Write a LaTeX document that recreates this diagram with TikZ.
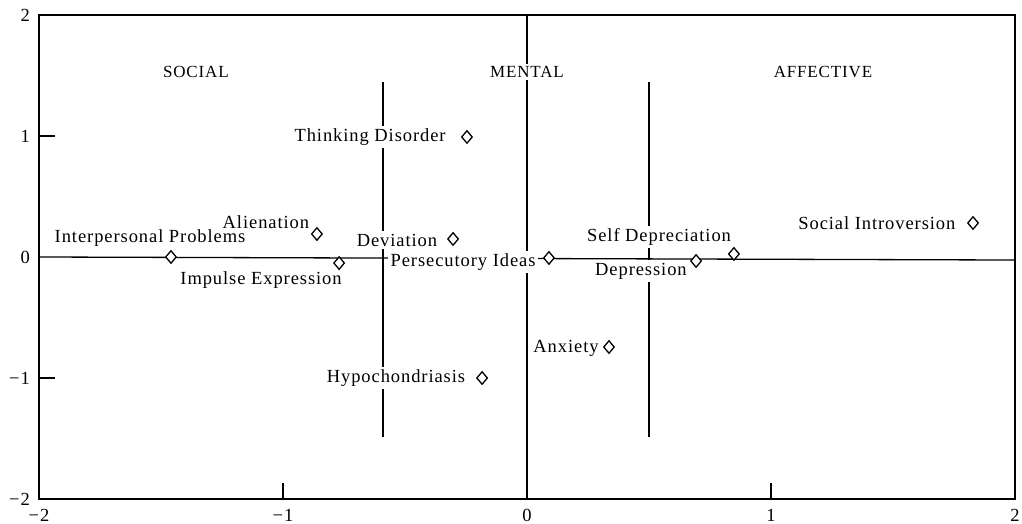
\documentclass[tikz,border=0pt]{standalone}
\usepackage{fontspec}
\setmainfont{Liberation Serif}[LetterSpace=5]
\usetikzlibrary{shapes.geometric}
\begin{document}
\begin{tikzpicture}[x=244pt,y=121pt,
  lbl/.style={fill=white,inner sep=2.5pt,font=\fontsize{18.5}{20}\selectfont},
  hdr/.style={fill=white,inner sep=2pt,font=\fontsize{17}{20}\selectfont},
  tk/.style={font=\fontsize{18.5}{20}\selectfont,inner sep=0pt},
  pt/.style={diamond,draw,fill=white,line width=1.3pt,minimum width=11pt,minimum height=13pt,inner sep=0pt},
  frame/.style={line width=1.3pt},
  divider/.style={line width=2.8pt},
  axisline/.style={line width=1.2pt}]
\useasboundingbox (-527pt,-267pt) rectangle (495pt,257pt);
% frame
\draw[frame] (-2,-2) rectangle (2,2);
\foreach \v in {-1,1}{
  \draw[frame] (\v,-2) -- ++(0,16pt);
  \draw[frame] (-2,\v) -- ++(16pt,0);
}
% tick labels
\node[tk] (xm2) at (-2,-2.132) {−2};
\node[tk] (xm1) at (-1,-2.132) {−1};
\node[tk] (x0) at (0,-2.132) {0};
\node[tk] (x1) at (1,-2.132) {1};
\node[tk] (x2) at (2,-2.132) {2};
\node[tk,anchor=east] (y2) at ([xshift=-9pt]-2,2) {2};
\node[tk,anchor=east] (y1) at ([xshift=-9pt]-2,1) {1};
\node[tk,anchor=east] (y0) at ([xshift=-9pt]-2,0) {0};
\node[tk,anchor=east] (ym1) at ([xshift=-9pt]-2,-1) {−1};
\node[tk,anchor=east] (ym2) at ([xshift=-9pt]-2,-2) {−2};
% axes lines
\coordinate (ctop) at (0,2);
\coordinate (cbot) at (0,-2);
\draw[axisline] (ctop) -- (cbot);
\coordinate (hl) at (-2,0);
\coordinate (hr) at (2,-0.025);
\draw[frame] (hl) -- (hr);
% dividers
\coordinate (d1t) at (-0.59,1.446);
\coordinate (d1b) at (-0.59,-1.488);
\coordinate (d2t) at (0.5,1.446);
\coordinate (d2b) at (0.5,-1.488);
\draw[divider] (d1t) -- (d1b);
\draw[divider] (d2t) -- (d2b);
% headers
\node[hdr] (social) at (-1.357,1.529) {SOCIAL};
\node[hdr] (mental) at (0,1.529) {MENTAL};
\node[hdr] (affective) at (1.213,1.529) {AFFECTIVE};
% labels
\node[lbl] (lip) at (-1.545,0.157) {Interpersonal Problems};
\node[lbl] (lal) at (-1.070,0.289) {Alienation};
\node[lbl] (lie) at (-1.090,-0.19) {Impulse Expression};
\node[lbl] (ldv) at (-0.533,0.14) {Deviation};
\node[lbl] (lpi) at (-0.262,-0.041) {Persecutory Ideas};
\node[lbl] (ltd) at (-0.643,0.992) {Thinking Disorder};
\node[lbl] (lsd) at (0.541,0.165) {Self Depreciation};
\node[lbl] (lde) at (0.467,-0.116) {Depression};
\node[lbl] (lsi) at (1.434,0.281) {Social Introversion};
\node[lbl] (lan) at (0.160,-0.752) {Anxiety};
\node[lbl] (lhy) at (-0.537,-1.0) {Hypochondriasis};
% points
\node[pt] (ptd) at (-0.246,0.992) {};
\node[pt] (pal) at (-0.861,0.19) {};
\node[pt] (pip) at (-1.459,0) {};
\node[pt] (pie) at (-0.770,-0.05) {};
\node[pt] (pdv) at (-0.303,0.149) {};
\node[pt] (ppi) at (0.090,-0.008) {};
\node[pt] (psd) at (0.848,0.025) {};
\node[pt] (pde) at (0.693,-0.033) {};
\node[pt] (psi) at (1.828,0.281) {};
\node[pt] (pan) at (0.336,-0.744) {};
\node[pt] (phy) at (-0.184,-1.0) {};
\end{tikzpicture}
\end{document}
